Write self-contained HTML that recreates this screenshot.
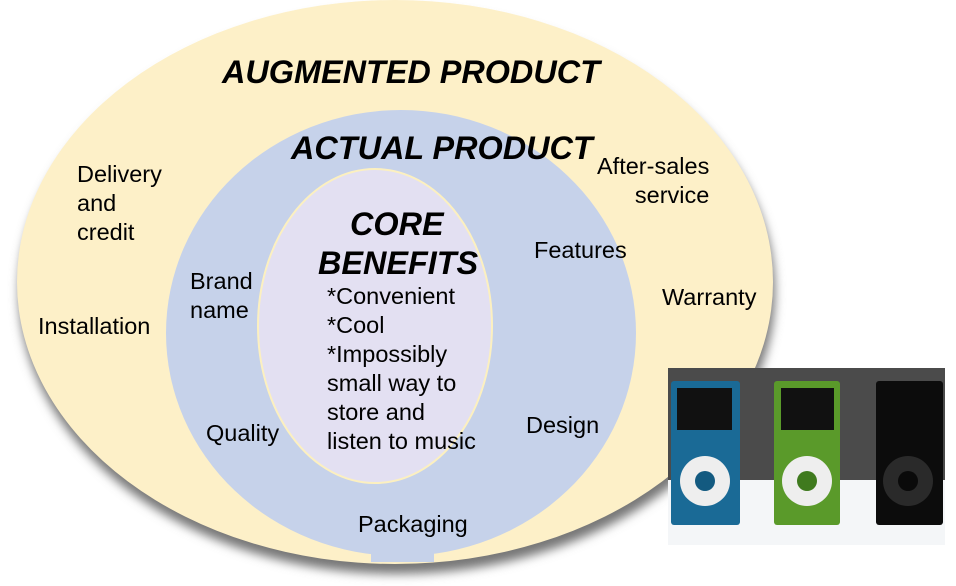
<!DOCTYPE html>
<html><head><style>
body{margin:0;width:956px;height:586px;background:#fff;overflow:hidden;position:relative;font-family:"Liberation Sans",sans-serif}
.t{position:absolute;font-size:23.5px;color:#000;line-height:29px}
.h{position:absolute;font-weight:bold;font-style:italic;font-size:32.4px;color:#000;white-space:nowrap}
</style></head><body>
<svg width="956" height="586" style="position:absolute;left:0;top:0">
<defs><filter id="s" x="-10%" y="-10%" width="120%" height="130%"><feGaussianBlur stdDeviation="5"/></filter></defs>
<ellipse cx="397" cy="292" rx="378" ry="282" fill="#777" filter="url(#s)"/>
<ellipse cx="395" cy="282" rx="378" ry="282" fill="#fdf0c8"/>
<ellipse cx="401" cy="333" rx="235" ry="223" fill="#c6d2ea"/>
<rect x="371" y="540" width="63" height="22" fill="#c6d2ea"/>
<ellipse cx="375" cy="326" rx="117" ry="157" fill="#e3e0f2" stroke="#fcf0c0" stroke-width="2"/>
<rect x="668" y="368" width="277" height="177" fill="#f4f6f8"/>
<rect x="668" y="368" width="277" height="112" fill="#4b4b4b"/>
<rect x="671" y="381" width="69" height="144" rx="3" fill="#1a6a96"/>
<rect x="677" y="388" width="55" height="42" fill="#111"/>
<circle cx="705" cy="481" r="25" fill="#eee"/><circle cx="705" cy="481" r="10" fill="#135a80"/>
<rect x="774" y="381" width="66" height="144" rx="3" fill="#5a9a2a"/>
<rect x="781" y="388" width="53" height="42" fill="#111"/>
<circle cx="807" cy="481" r="25" fill="#eee"/><circle cx="807" cy="481" r="10" fill="#3f7a1e"/>
<rect x="876" y="381" width="67" height="144" rx="3" fill="#0c0c0c"/>
<circle cx="908" cy="481" r="25" fill="#2a2a2a"/><circle cx="908" cy="481" r="10" fill="#0a0a0a"/>
</svg>
<div class="h" style="left:222px;top:54px">AUGMENTED PRODUCT</div>
<div class="h" style="left:291px;top:130px">ACTUAL PRODUCT</div>
<div class="h" style="left:350px;top:206px">CORE</div>
<div class="h" style="left:318px;top:245px">BENEFITS</div>
<div class="t" style="left:77px;top:160px">Delivery<br>and<br>credit</div>
<div class="t" style="left:597px;top:152px;text-align:right">After-sales<br>service</div>
<div class="t" style="left:534px;top:236px">Features</div>
<div class="t" style="left:662px;top:283px">Warranty</div>
<div class="t" style="left:38px;top:312px">Installation</div>
<div class="t" style="left:190px;top:267px">Brand<br>name</div>
<div class="t" style="left:327px;top:282px">*Convenient<br>*Cool<br>*Impossibly<br>small way to<br>store and<br>listen to music</div>
<div class="t" style="left:206px;top:419px">Quality</div>
<div class="t" style="left:526px;top:411px">Design</div>
<div class="t" style="left:358px;top:510px">Packaging</div>
</body></html>
